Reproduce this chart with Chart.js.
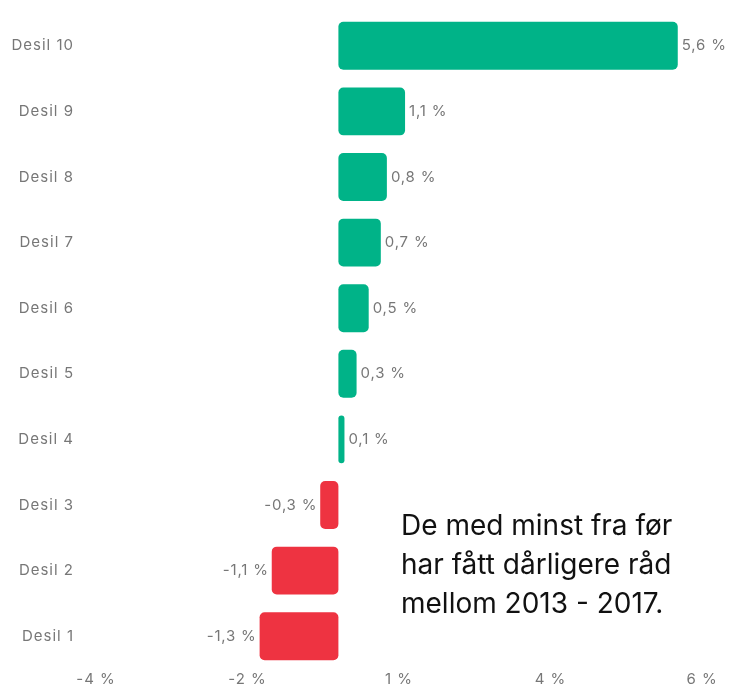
<!DOCTYPE html>
<html>
<head>
<meta charset="utf-8">
<script src="https://cdn.jsdelivr.net/npm/chart.js@4"></script>
<style>
  html, body { margin: 0; padding: 0; background: #fff; }
  #wrap { position: relative; width: 735px; height: 689px; }
  #merknad {
    position: absolute; left: 401px; top: 506px;
    font-family: Inter, sans-serif; font-size: 28px; line-height: 39px;
    color: #111; white-space: nowrap;
  }
</style>
</head>
<body>
<div id="wrap">
  <canvas id="graficoDesiler" width="735" height="689"></canvas>
  <div id="merknad">De med minst fra før<br>har fått dårligere råd<br>mellom 2013 - 2017.</div>
</div>
<script>
const kategorier = ['Desil 10', 'Desil 9', 'Desil 8', 'Desil 7', 'Desil 6', 'Desil 5', 'Desil 4', 'Desil 3', 'Desil 2', 'Desil 1'];
const endring = [5.6, 1.1, 0.8, 0.7, 0.5, 0.3, 0.1, -0.3, -1.1, -1.3];
const tickVerdier = [-4, -1.5, 1, 3.5, 6];
const tickEtiketter = ['-4 %', '-2 %', '1 %', '4 %', '6 %'];

const gronn = '#00b388';
const rod = '#ee3341';
const gra = '#777777';

// litt sperret skrift, som i originalen
const sperring = {
    id: 'sperring',
    beforeDraw(chart) {
        chart.ctx.letterSpacing = '1px';
    }
};

// verdietiketter ved enden av hver stolpe
const etiketter = {
    id: 'etiketter',
    afterDatasetsDraw(chart) {
        const ctx = chart.ctx;
        const meta = chart.getDatasetMeta(0);
        ctx.save();
        ctx.font = '15px Inter, sans-serif';
        ctx.letterSpacing = '0.8px';
        ctx.fillStyle = gra;
        ctx.textBaseline = 'middle';
        meta.data.forEach((bar, i) => {
            const v = endring[i];
            const tekst = v.toFixed(1).replace('.', ',') + ' %';
            if (v >= 0) {
                ctx.textAlign = 'left';
                ctx.fillText(tekst, bar.x + 4, bar.y);
            } else {
                ctx.textAlign = 'right';
                ctx.fillText(tekst, bar.x - 3, bar.y);
            }
        });
        ctx.restore();
    }
};

function graficoDesiler() {
    const ctx = document.getElementById('graficoDesiler');

    new Chart(ctx, {
        type: 'bar',
        data: {
            labels: kategorier,
            datasets: [{
                data: endring,
                backgroundColor: endring.map(v => v >= 0 ? gronn : rod),
                borderRadius: 5,
                borderSkipped: false,
                barPercentage: 0.73,
                categoryPercentage: 1
            }]
        },
        options: {
            indexAxis: 'y',
            responsive: false,
            animation: false,
            layout: { padding: { top: 13, right: 33, bottom: 0, left: 0 } },
            plugins: {
                legend: { display: false },
                tooltip: { enabled: false }
            },
            scales: {
                x: {
                    min: -4,
                    max: 6,
                    afterBuildTicks: scale => {
                        scale.ticks = tickVerdier.map(v => ({ value: v }));
                    },
                    afterFit: scale => { scale.height = 20; },
                    ticks: {
                        callback: (v, i) => tickEtiketter[i],
                        color: gra,
                        font: { family: 'Inter, sans-serif', size: 15 },
                        padding: 1,
                        maxRotation: 0,
                        autoSkip: false
                    },
                    grid: { display: false, drawTicks: false },
                    border: { display: false }
                },
                y: {
                    afterFit: scale => {
                        scale.width = 96;
                        scale.paddingTop = 0;
                        scale.paddingBottom = 0;
                    },
                    ticks: {
                        color: gra,
                        font: { family: 'Inter, sans-serif', size: 15 },
                        padding: 22
                    },
                    grid: { display: false, drawTicks: false },
                    border: { display: false }
                }
            }
        },
        plugins: [sperring, etiketter]
    });
}

graficoDesiler();
</script>
</body>
</html>
